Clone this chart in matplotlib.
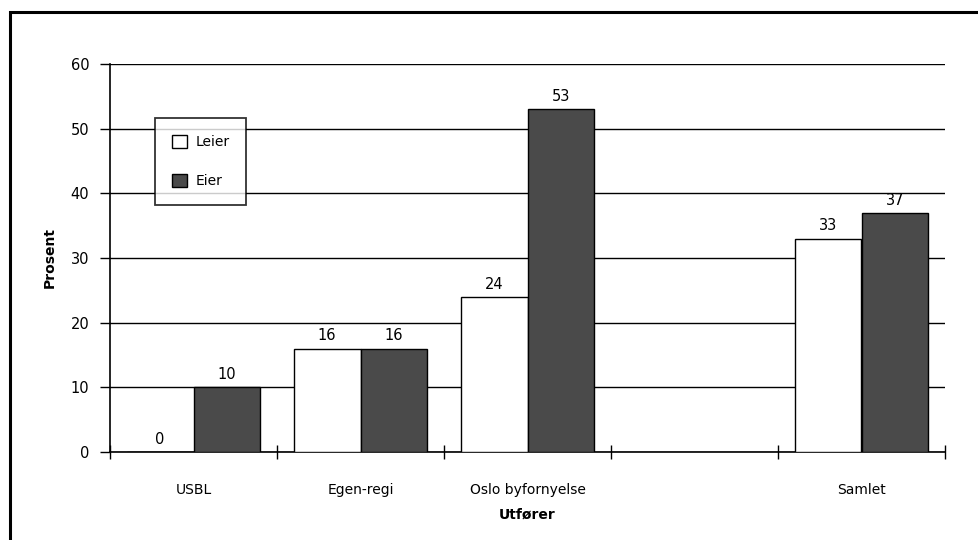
import numpy as np
import matplotlib.pyplot as plt
import matplotlib.patches as mpatches

# data
categories = ["USBL", "Egen-regi", "Oslo byfornyelse", "", "Samlet"]
leier = [0, 16, 24, None, 33]
eier = [10, 16, 53, None, 37]
yticks = [0, 10, 20, 30, 40, 50, 60]

plt.rcParams['font.family'] = ['DejaVu Sans']

fig = plt.figure(figsize=(9.79, 5.40), dpi=100)
ax = fig.add_axes([110 / 979, 1 - 452 / 540, (945 - 110) / 979, (452 - 64) / 540])

# thick frame of the scanned page (left and top edges visible)
fig.patches.append(mpatches.Rectangle((10 / 979, -0.1), 1.2, 1 - 12 / 540 + 0.1,
                                      transform=fig.transFigure, fill=False,
                                      edgecolor='black', linewidth=2.2, zorder=0))

x = np.arange(len(categories))
w = 0.4
idx = [i for i, v in enumerate(leier) if v is not None]
lv = [leier[i] for i in idx]
ev = [eier[i] for i in idx]
xi = x[idx]

b1 = ax.bar(xi - w / 2, lv, w, color='white', edgecolor='black', linewidth=1.0,
            label='Leier', zorder=3)
b2 = ax.bar(xi + w / 2, ev, w, color='#4a4a4a', edgecolor='black', linewidth=1.0,
            label='Eier', zorder=3)

for bars, vals in [(b1, lv), (b2, ev)]:
    for b, v in zip(bars, vals):
        ax.text(b.get_x() + b.get_width() / 2, v + 0.8, str(v), ha='center',
                va='bottom', fontsize=10.5, zorder=4)

ax.set_xlim(-0.5, len(categories) - 0.5)
ax.set_ylim(0, 60)
ax.set_yticks(yticks)
ax.yaxis.grid(True, color='black', linewidth=1.0)
ax.set_axisbelow(True)

# category boundaries as ticks on x axis
ax.set_xticks(np.arange(-0.5, len(categories), 1.0))
ax.set_xticklabels([])
ax.set_xticks(x, minor=True)
ax.set_xticklabels(categories, minor=True, fontsize=10)
ax.tick_params(axis='x', which='major', direction='inout', length=10, width=1.0)
ax.tick_params(axis='x', which='minor', length=0, pad=22)
ax.tick_params(axis='y', direction='out', length=7, width=1.0, labelsize=10.5, pad=8)

for s in ['top', 'right']:
    ax.spines[s].set_visible(False)
ax.spines['left'].set_linewidth(1.2)
ax.spines['bottom'].set_linewidth(1.2)

ax.set_ylabel("Prosent", fontsize=10, fontweight='bold', labelpad=10)
ax.set_xlabel("Utfører", fontsize=10, fontweight='bold', labelpad=8)

leg = ax.legend(loc='upper left', bbox_to_anchor=(45 / 835, 1 - 54 / 388),
                borderaxespad=0, frameon=True, fancybox=False, edgecolor='black',
                fontsize=10, handlelength=1.1, handleheight=1.1, labelspacing=1.8,
                borderpad=1.2, handletextpad=0.6)
leg.get_frame().set_linewidth(1.3)
leg.set_zorder(5)

fig.savefig("out.png", dpi=100)
